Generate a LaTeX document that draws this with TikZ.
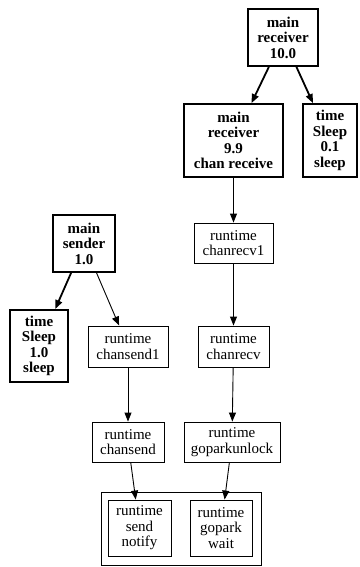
\documentclass[tikz,border=0pt]{standalone}
\usepackage{fontspec}
\setmainfont{Liberation Serif}
\usetikzlibrary{arrows.meta}

\tikzset{
  fnbox/.style={draw,line width=0.9pt,inner sep=0pt,align=center,
    font=\fontsize{15}{15.5}\selectfont},
  hotbox/.style={fnbox,line width=1.8pt,font=\fontsize{15}{15.5}\selectfont\bfseries},
  call/.style={line width=0.9pt,-{Triangle[length=9pt,width=7pt]}},
  hotcall/.style={line width=1.8pt,-{Triangle[length=9pt,width=7pt]}}
}

\begin{document}
\begin{tikzpicture}[x=1pt,y=-1pt]
    \useasboundingbox (0,0) rectangle (359,567);

    % ricevitore
    \node[hotbox,minimum width=70,minimum height=57] (recv10) at (283,37.5) {main\\receiver\\10.0};
    \node[hotbox,minimum width=99,minimum height=73] (recv99) at (233.5,140.5) {main\\receiver\\9.9\\chan receive};
    \node[hotbox,minimum width=54,minimum height=73] (sleep01) at (330,140.5) {time\\Sleep\\0.1\\sleep};
    \node[fnbox,minimum width=79,minimum height=40] (chanrecv1) at (233.5,243) {runtime\\chanrecv1};
    \node[fnbox,minimum width=71,minimum height=41] (chanrecv) at (233.5,346.5) {runtime\\chanrecv};
    \node[fnbox,minimum width=96,minimum height=40] (unlock) at (232,442) {runtime\\goparkunlock};

    % mittente
    \node[hotbox,minimum width=62,minimum height=57] (sender) at (84,243.5) {main\\sender\\1.0};
    \node[hotbox,minimum width=58,minimum height=72] (sleep10) at (39,346) {time\\Sleep\\1.0\\sleep};
    \node[fnbox,minimum width=80,minimum height=41] (chansend1) at (128,346.5) {runtime\\chansend1};
    \node[fnbox,minimum width=72,minimum height=40] (chansend) at (128,442) {runtime\\chansend};

    % gruppo in fondo
    \node[fnbox,minimum width=63,minimum height=56] (notify) at (139.5,528) {runtime\\send\\notify};
    \node[fnbox,minimum width=62,minimum height=56] (wait) at (221,528) {runtime\\gopark\\wait};
    \draw[line width=0.9pt] (101,492) rectangle (261,565);

    % archi
    \draw[hotcall] (recv10) -- (recv99);
    \draw[hotcall] (recv10) -- (sleep01);
    \draw[call] (recv99) -- (chanrecv1);
    \draw[call] (chanrecv1) -- (chanrecv);
    \draw[call] (chanrecv) -- (unlock);
    \draw[call] (unlock) -- (wait);
    \draw[hotcall] (sender) -- (sleep10);
    \draw[call] (sender) -- (chansend1);
    \draw[call] (chansend1) -- (chansend);
    \draw[call] (chansend) -- (notify);
\end{tikzpicture}
\end{document}
